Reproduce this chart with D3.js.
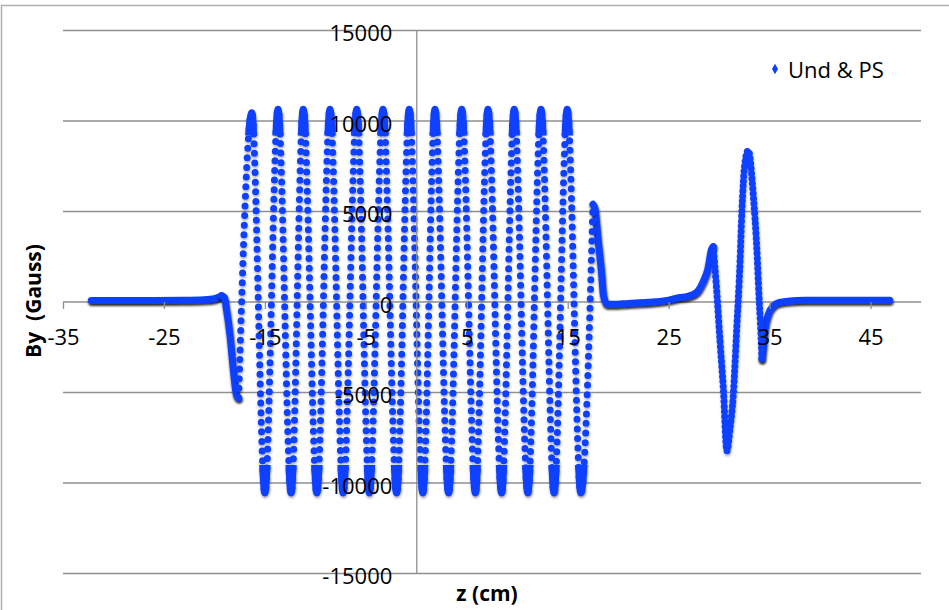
<!DOCTYPE html>
<html>
<head>
<meta charset="utf-8">
<script src="https://cdn.jsdelivr.net/npm/d3@7"></script>
<style>
  body { margin: 0; background: #fff; }
  text { font-family: "Open Sans", sans-serif; }
</style>
</head>
<body>
<div class="canvas"></div>
<script>
// z (cm) / By (Gauss), split where the marker density changes
const leadZ = [-32.2, -29, -26, -23, -21, -20, -19.5, -19.3];
const leadBy = [80, 80, 80, 90, 120, 180, 280, 350];

const entryZ = [-19.3, -19.0, -18.8, -18.45, -18.13, -17.8, -17.6];
const entryBy = [350, 250, -400, -1850, -3700, -5150, -5300];

const undZ = [-17.6, -16.3, -15.0, -13.7, -12.4, -11.2, -9.85, -8.55, -7.25, -5.9, -4.65, -3.3, -1.95,
  -0.7, 0.65, 1.85, 3.2, 4.5, 5.85, 7.1, 8.45, 9.7, 11.05, 12.35, 13.65, 14.95, 16.3, 17.5];
const undBy = [-5300, 10450, -10550, 10650, -10550, 10650, -10550, 10650, -10550, 10650, -10550, 10650, -10550,
  10650, -10550, 10650, -10550, 10650, -10550, 10650, -10550, 10650, -10550, 10650, -10550, 10650, -10550, 5400];

const exitZ = [17.5, 17.7, 18.0, 18.35, 18.55, 18.9, 19.5, 21, 23, 25, 26.1, 26.8, 27.8, 28.4, 28.9, 29.25, 29.42];
const exitBy = [5400, 5150, 3500, 1650, 350, -120, -130, -80, -20, 100, 250, 300, 550, 1100, 1850, 2900, 3050];

const kickZ = [29.42, 29.75, 30.1, 30.42, 30.77, 31.08, 31.4, 31.74, 32.07, 32.25, 32.56, 32.89, 33.39, 33.72, 33.95, 34.15, 34.25];
const kickBy = [3050, 700, -2250, -4800, -8230, -7000, -5150, -1500, 2200, 4950, 7700, 8370, 5850, 3100, 350, -1850, -3150];

const tailZ = [34.25, 34.4, 34.55, 34.9, 35.4, 36, 37, 38.5, 41, 44, 46.9];
const tailBy = [-3150, -2400, -1500, -650, -200, -20, 60, 90, 100, 100, 100];

const xTicks = [-35, -25, -15, -5, 5, 15, 25, 35, 45];
const yTicks = [-15000, -10000, -5000, 0, 5000, 10000, 15000];
const seriesName = "Und & PS";
const xTitle = "z (cm)";
const yTitle = "By  (Gauss)";

const width = 949, height = 610;
const blue = "#1040ff";
const grid = "#8f8f8f";

const x = d3.scaleLinear().domain([-35, 50]).range([63, 921]);
const y = d3.scaleLinear().domain([-15000, 15000]).range([573.5, 30.5]);

const svg = d3.select('.canvas')
  .append('svg')
  .attr('width', width)
  .attr('height', height);

const defs = svg.append('defs');

const addShadow = (id, opacity) => {
  defs.append('filter')
    .attr('id', id)
    .attr('filterUnits', 'userSpaceOnUse')
    .attr('x', 0).attr('y', 0)
    .attr('width', width).attr('height', height)
    .append('feDropShadow')
    .attr('dx', 0.5)
    .attr('dy', 2)
    .attr('stdDeviation', 1)
    .attr('flood-color', '#000')
    .attr('flood-opacity', opacity);
};
addShadow('shadowSolid', 0.85);
addShadow('shadowDots', 0.3);

// near the undulator peaks the samples crowd into a solid blob
const capClip = defs.append('clipPath').attr('id', 'caps');
capClip.append('rect')
  .attr('x', 0).attr('width', width)
  .attr('y', y(11500)).attr('height', y(9200) - y(11500));
capClip.append('rect')
  .attr('x', 0).attr('width', width)
  .attr('y', y(-9000)).attr('height', y(-11500) - y(-9000));

// chart border
svg.append('rect')
  .attr('x', 1.5)
  .attr('y', 5.5)
  .attr('width', 980)
  .attr('height', 700)
  .attr('fill', 'none')
  .attr('stroke', '#b0b0b0')
  .attr('stroke-width', 1.5);

// gridlines
svg.append('g')
  .selectAll('line')
  .data(yTicks)
  .join('line')
  .attr('x1', x(-35))
  .attr('x2', x(50))
  .attr('y1', d => y(d))
  .attr('y2', d => y(d))
  .attr('stroke', grid)
  .attr('stroke-width', 1.3);

const xAxis = svg.append('g')
  .attr('transform', `translate(0,${y(0)})`)
  .call(d3.axisBottom(x).tickValues(xTicks).tickSize(7).tickSizeOuter(0).tickFormat(d => String(d)));
xAxis.select('.domain').remove();
xAxis.selectAll('.tick line').attr('stroke', grid).attr('stroke-width', 1.3);

const yAxis = svg.append('g')
  .attr('transform', `translate(${x(0)},0)`)
  .call(d3.axisLeft(y).tickValues(yTicks).tickSize(0).tickSizeOuter(0).tickPadding(24).tickFormat(d => String(d)));
yAxis.select('.domain').attr('stroke', grid).attr('stroke-width', 1.3);

// series
const line = d3.line()
  .x(d => x(d[0]))
  .y(d => y(d[1]))
  .curve(d3.curveMonotoneX);

const series = svg.append('g')
  .attr('fill', 'none')
  .attr('stroke', blue)
  .attr('stroke-width', 7)
  .attr('stroke-linecap', 'round')
  .attr('stroke-linejoin', 'round');

const solidParts = [[leadZ, leadBy], [entryZ, entryBy], [exitZ, exitBy], [tailZ, tailBy]];
series.selectAll('path.solid')
  .data(solidParts)
  .join('path')
  .attr('class', 'solid')
  .attr('d', d => line(d3.zip(d[0], d[1])))
  .attr('filter', 'url(#shadowSolid)');

series.append('path')
  .attr('d', line(d3.zip(kickZ, kickBy)))
  .attr('stroke-dasharray', '0 5')
  .attr('filter', 'url(#shadowDots)');

const undPath = line(d3.zip(undZ, undBy));
series.append('path')
  .attr('d', undPath)
  .attr('stroke-dasharray', '0 9.6')
  .attr('filter', 'url(#shadowDots)');

series.append('path')
  .attr('d', undPath)
  .attr('clip-path', 'url(#caps)')
  .attr('filter', 'url(#shadowDots)');

// tick labels sit on top of the markers
[xAxis, yAxis].forEach(a => {
  a.attr('font-family', null).attr('font-size', null);
  a.raise();
});
xAxis.selectAll('.tick text')
  .attr('y', 43)
  .attr('dy', null)
  .attr('fill', '#000')
  .style('font-size', '22px');
yAxis.selectAll('.tick text')
  .attr('dy', '0.47em')
  .attr('fill', '#000')
  .style('font-size', '22px');

// axis titles
svg.append('text')
  .attr('x', 487)
  .attr('y', 601)
  .attr('text-anchor', 'middle')
  .style('font-size', '21px')
  .style('font-weight', 'bold')
  .text(xTitle);

svg.append('text')
  .attr('transform', `translate(41,301) rotate(-90)`)
  .attr('text-anchor', 'middle')
  .style('font-size', '21px')
  .style('font-weight', 'bold')
  .style('white-space', 'pre')
  .text(yTitle);

// legend
const legend = svg.append('g').attr('transform', 'translate(775,69)');
legend.append('path')
  .attr('d', d3.symbol(d3.symbolDiamond).size(32))
  .attr('fill', blue);
legend.append('text')
  .attr('x', 13)
  .attr('y', 9)
  .style('font-size', '22px')
  .text(seriesName);
</script>
</body>
</html>
